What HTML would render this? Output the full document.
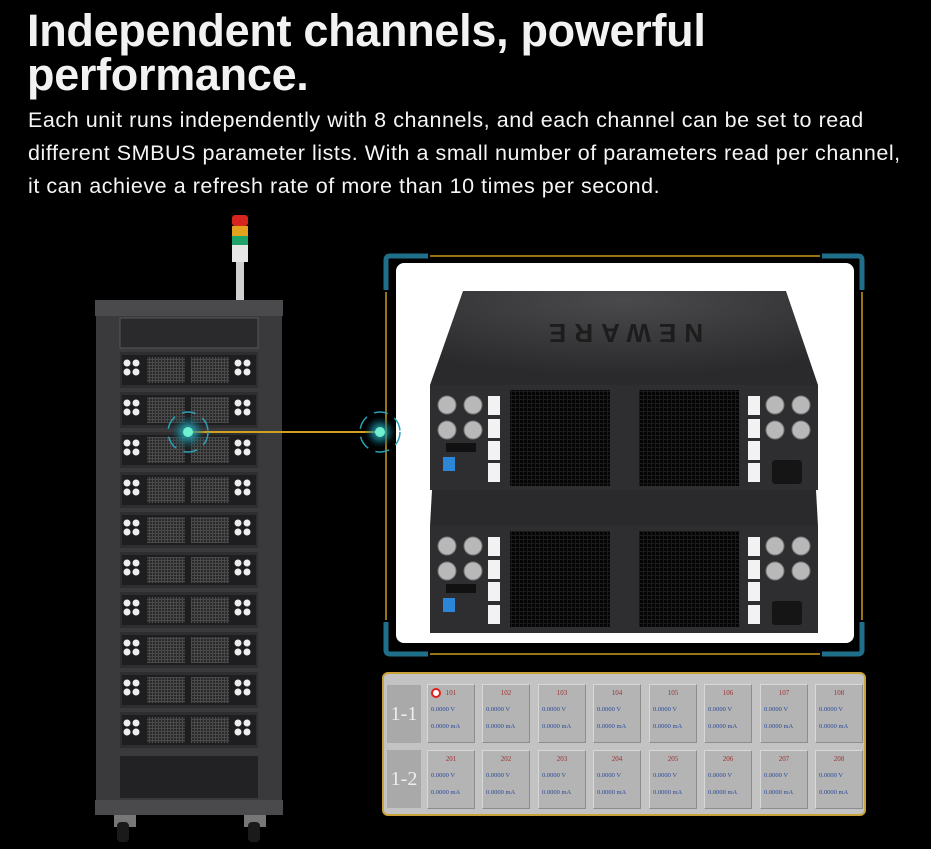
<!DOCTYPE html>
<html><head><meta charset="utf-8"><style>
html,body{margin:0;padding:0;background:#000;width:931px;height:849px;overflow:hidden}
body{position:relative;font-family:"Liberation Sans",sans-serif;color:#fff}
h1{position:absolute;left:27px;top:9px;margin:0;font-size:45px;line-height:44px;font-weight:bold;letter-spacing:-0.3px;color:#f2f2f2}
p{position:absolute;left:28px;top:104px;margin:0;font-size:21.5px;letter-spacing:0.55px;line-height:33px;color:#f5f5f5;width:910px}
svg{position:absolute;left:0;top:0}
.tbl{position:absolute;left:382px;top:672px;width:480px;height:140px;background:#c3c3c3;border:2px solid #c9a33a;border-radius:6px}
.lab{position:absolute;left:3px;width:34px;height:58px;background:#a9a9a9;color:#eee;font-family:"Liberation Serif",serif;font-size:20px;text-align:center;line-height:58px}
.c{position:absolute;width:46px;height:57px;background:#b4b4b4;border:1px solid #d8d8d8;border-right-color:#8d8d8d;border-bottom-color:#8d8d8d;font-family:"Liberation Serif",serif;font-size:6.5px}
.c .n{position:absolute;top:4px;width:100%;text-align:center;color:#9a3030;font-size:7px}
.c .v{position:absolute;left:3px;top:21px;color:#2a4a9a}
.c .a{position:absolute;left:3px;top:38px;color:#2a4a9a}
</style></head><body>
<h1>Independent channels, powerful<br>performance.</h1>
<p>Each unit runs independently with 8 channels, and each channel can be set to read<br>different SMBUS parameter lists. With a small number of parameters read per channel,<br>it can achieve a refresh rate of more than 10 times per second.</p>
<svg width="931" height="849" viewBox="0 0 931 849">
<defs>
<pattern id="g" width="4" height="4" patternUnits="userSpaceOnUse"><rect width="4" height="4" fill="#1a1a1a"/><rect width="3" height="3" fill="#050505"/></pattern>
<pattern id="gs" width="3" height="3" patternUnits="userSpaceOnUse"><rect width="3" height="3" fill="#4a4a4a"/><rect width="2" height="2" fill="#2a2a2a"/></pattern>
<radialGradient id="glow"><stop offset="0" stop-color="#3ad6e0" stop-opacity="0.9"/><stop offset="0.5" stop-color="#1a8a9a" stop-opacity="0.6"/><stop offset="1" stop-color="#0a4050" stop-opacity="0"/></radialGradient>
<radialGradient id="lid" cx="0.5" cy="0.1" r="0.8"><stop offset="0" stop-color="#4a4a4c"/><stop offset="1" stop-color="#2a2a2c"/></radialGradient>
</defs>
<rect x="232" y="215" width="16" height="11" rx="3" fill="#d8241e"/>
<rect x="232" y="226" width="16" height="10" fill="#e2a21e"/>
<rect x="232" y="236" width="16" height="9" fill="#1fa36a"/>
<rect x="232" y="245" width="16" height="17" fill="#e6e6e6"/>
<rect x="236" y="262" width="8" height="38" fill="#d0d0d0"/>
<rect x="96" y="300" width="186" height="515" fill="#3a3a3c"/>
<rect x="95" y="300" width="188" height="16" fill="#4a4a4c"/>
<rect x="95" y="800" width="188" height="15" fill="#4a4a4c"/>
<rect x="120" y="318" width="138" height="30" fill="#2a2a2c" stroke="#555" stroke-width="1"/>
<rect x="120" y="756" width="138" height="42" fill="#222224"/>
<g id="units"></g>
<rect x="114" y="815" width="22" height="12" fill="#777"/><rect x="117" y="822" width="12" height="20" rx="4" fill="#1a1a1a"/>
<rect x="244" y="815" width="22" height="12" fill="#777"/><rect x="248" y="822" width="12" height="20" rx="4" fill="#1a1a1a"/>
<rect x="396" y="263" width="458" height="380" rx="8" fill="#fff"/>
<path d="M386 290 V260 Q386 256 390 256 H428" fill="none" stroke="#1f6f8a" stroke-width="5"/>
<path d="M822 256 H858 Q862 256 862 260 V290" fill="none" stroke="#1f6f8a" stroke-width="5"/>
<path d="M386 622 V650 Q386 654 390 654 H428" fill="none" stroke="#1f6f8a" stroke-width="5"/>
<path d="M822 654 H858 Q862 654 862 650 V622" fill="none" stroke="#1f6f8a" stroke-width="5"/>
<path d="M430 256 H820 M430 654 H820 M386 292 V620 M862 292 V620" stroke="#c99a1a" stroke-width="1.5"/>
<polygon points="463,291 786,291 818,385 430,385" fill="url(#lid)"/>
<text x="622" y="340" text-anchor="middle" font-size="26" fill="#1c1c1c" font-weight="bold" letter-spacing="8" transform="rotate(180 622 332)">NEWARE</text>
<rect x="430" y="385" width="388" height="105" fill="#2e2e30"/>
<polygon points="432,490 816,490 818,526 430,526" fill="#2a2a2c"/>
<rect x="430" y="525" width="388" height="108" fill="#2e2e30"/>
<rect x="510" y="390" width="100" height="96" fill="url(#g)"/>
<rect x="639" y="390" width="100" height="96" fill="url(#g)"/>
<rect x="510" y="531" width="100" height="96" fill="url(#g)"/>
<rect x="639" y="531" width="100" height="96" fill="url(#g)"/>
<g fill="#b8b8b8" stroke="#777">
<circle cx="447" cy="405" r="9"/><circle cx="473" cy="405" r="9"/><circle cx="447" cy="430" r="9"/><circle cx="473" cy="430" r="9"/>
<circle cx="775" cy="405" r="9"/><circle cx="801" cy="405" r="9"/><circle cx="775" cy="430" r="9"/><circle cx="801" cy="430" r="9"/>
<circle cx="447" cy="546" r="9"/><circle cx="473" cy="546" r="9"/><circle cx="447" cy="571" r="9"/><circle cx="473" cy="571" r="9"/>
<circle cx="775" cy="546" r="9"/><circle cx="801" cy="546" r="9"/><circle cx="775" cy="571" r="9"/><circle cx="801" cy="571" r="9"/>
</g>
<g fill="#f2f2f2">
<rect x="488" y="396" width="12" height="19"/><rect x="488" y="419" width="12" height="19"/><rect x="488" y="441" width="12" height="19"/><rect x="488" y="463" width="12" height="19"/>
<rect x="748" y="396" width="12" height="19"/><rect x="748" y="419" width="12" height="19"/><rect x="748" y="441" width="12" height="19"/><rect x="748" y="463" width="12" height="19"/>
<rect x="488" y="537" width="12" height="19"/><rect x="488" y="560" width="12" height="19"/><rect x="488" y="582" width="12" height="19"/><rect x="488" y="605" width="12" height="19"/>
<rect x="748" y="537" width="12" height="19"/><rect x="748" y="560" width="12" height="19"/><rect x="748" y="582" width="12" height="19"/><rect x="748" y="605" width="12" height="19"/>
</g>
<rect x="443" y="457" width="12" height="14" fill="#2c86d8"/><rect x="443" y="598" width="12" height="14" fill="#2c86d8"/>
<rect x="446" y="443" width="30" height="9" fill="#111"/><rect x="446" y="584" width="30" height="9" fill="#111"/>
<rect x="772" y="460" width="30" height="24" rx="3" fill="#151515"/><rect x="772" y="601" width="30" height="24" rx="3" fill="#151515"/>
<line x1="188" y1="432" x2="380" y2="432" stroke="#d0a020" stroke-width="2"/>
<circle cx="188" cy="432" r="18" fill="url(#glow)"/>
<circle cx="188" cy="432" r="20" fill="none" stroke="#2aa0b8" stroke-width="1.5" stroke-dasharray="14 8"/>
<circle cx="188" cy="432" r="5" fill="#6ff0d0"/>
<circle cx="380" cy="432" r="16" fill="url(#glow)"/>
<circle cx="380" cy="432" r="20" fill="none" stroke="#2aa0b8" stroke-width="1.5" stroke-dasharray="14 8"/>
<circle cx="380" cy="432" r="5" fill="#6ff0d0"/>
</svg>
<div class="tbl">
<div class="lab" style="top:11px">1-1</div>
<div class="lab" style="top:76px">1-2</div>
<div class="c" style="left:43px;top:10px"><span style="position:absolute;left:3px;top:3px;width:6px;height:6px;border-radius:50%;border:2px solid #e02020;background:#fff"></span><div class="n">101</div><div class="v">0.0000 V</div><div class="a">0.0000 mA</div></div>
<div class="c" style="left:98px;top:10px"><div class="n">102</div><div class="v">0.0000 V</div><div class="a">0.0000 mA</div></div>
<div class="c" style="left:154px;top:10px"><div class="n">103</div><div class="v">0.0000 V</div><div class="a">0.0000 mA</div></div>
<div class="c" style="left:209px;top:10px"><div class="n">104</div><div class="v">0.0000 V</div><div class="a">0.0000 mA</div></div>
<div class="c" style="left:265px;top:10px"><div class="n">105</div><div class="v">0.0000 V</div><div class="a">0.0000 mA</div></div>
<div class="c" style="left:320px;top:10px"><div class="n">106</div><div class="v">0.0000 V</div><div class="a">0.0000 mA</div></div>
<div class="c" style="left:376px;top:10px"><div class="n">107</div><div class="v">0.0000 V</div><div class="a">0.0000 mA</div></div>
<div class="c" style="left:431px;top:10px"><div class="n">108</div><div class="v">0.0000 V</div><div class="a">0.0000 mA</div></div>
<div class="c" style="left:43px;top:76px"><div class="n">201</div><div class="v">0.0000 V</div><div class="a">0.0000 mA</div></div>
<div class="c" style="left:98px;top:76px"><div class="n">202</div><div class="v">0.0000 V</div><div class="a">0.0000 mA</div></div>
<div class="c" style="left:154px;top:76px"><div class="n">203</div><div class="v">0.0000 V</div><div class="a">0.0000 mA</div></div>
<div class="c" style="left:209px;top:76px"><div class="n">204</div><div class="v">0.0000 V</div><div class="a">0.0000 mA</div></div>
<div class="c" style="left:265px;top:76px"><div class="n">205</div><div class="v">0.0000 V</div><div class="a">0.0000 mA</div></div>
<div class="c" style="left:320px;top:76px"><div class="n">206</div><div class="v">0.0000 V</div><div class="a">0.0000 mA</div></div>
<div class="c" style="left:376px;top:76px"><div class="n">207</div><div class="v">0.0000 V</div><div class="a">0.0000 mA</div></div>
<div class="c" style="left:431px;top:76px"><div class="n">208</div><div class="v">0.0000 V</div><div class="a">0.0000 mA</div></div>
</div>
<script>
var g=document.getElementById('units'),s='';
for(var i=0;i<10;i++){var y=355+i*40;
s+='<rect x="120" y="'+(y-3)+'" width="138" height="36" fill="#2e2e30"/>';
s+='<rect x="122" y="'+y+'" width="134" height="30" fill="#1e1e20"/>';
s+='<rect x="147" y="'+(y+2)+'" width="38" height="26" fill="url(#gs)"/><rect x="191" y="'+(y+2)+'" width="38" height="26" fill="url(#gs)"/>';
[127,136,238,247].forEach(function(x){s+='<circle cx="'+x+'" cy="'+(y+8)+'" r="3.5" fill="#eee"/><circle cx="'+x+'" cy="'+(y+17)+'" r="3.5" fill="#eee"/>';});}
g.innerHTML=s;
</script>
</body></html>
